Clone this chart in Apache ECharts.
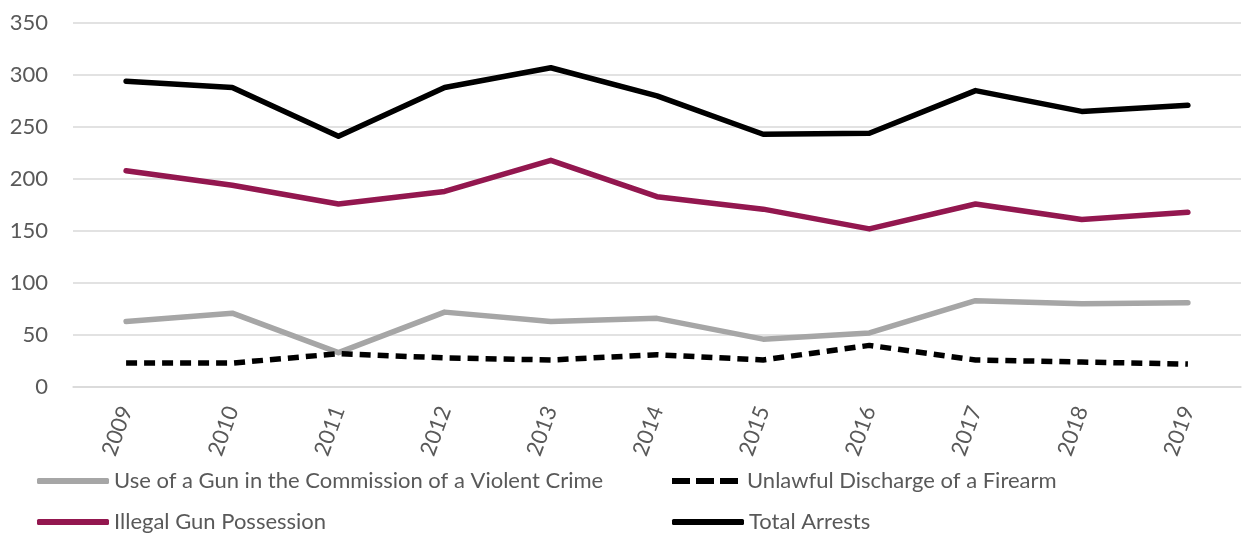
<!DOCTYPE html>
<html lang="en">
<head>
    <meta charset="UTF-8">
    <title>Gun arrests</title>
    <script src="https://cdn.jsdelivr.net/npm/echarts@6/dist/echarts.min.js"></script>
    <style>
        html, body { margin: 0; padding: 0; background: #fff; }
        #chart { width: 1243px; height: 533px; }
    </style>
</head>
<body>
<div id="chart"></div>
<script>
    /* data */
    var years = ['2009','2010','2011','2012','2013','2014','2015','2016','2017','2018','2019'];
    var useOfGun = [63, 71, 33, 72, 63, 66, 46, 52, 83, 80, 81];
    var unlawfulDischarge = [23, 23, 32, 28, 26, 31, 26, 40, 26, 24, 22];
    var illegalPossession = [208, 194, 176, 188, 218, 183, 171, 152, 176, 161, 168];
    var totalArrests = [294, 288, 241, 288, 307, 280, 243, 244, 285, 265, 271];
    var yTicks = { min: 0, max: 350, interval: 50 };

    var font = 'Lato';
    var labelColor = '#595959';
    var solidIcon = 'roundRect';
    var dashIcon = 'path://M0,0H18V6H0Z M24,0H42V6H24Z M48,0H66V6H48Z';

    function lineSeries(name, data, color, dashed) {
        return {
            name: name,
            type: 'line',
            data: data,
            symbol: 'none',
            lineStyle: {
                color: color,
                width: 5.5,
                type: dashed ? [11, 7] : 'solid',
                cap: dashed ? 'butt' : 'round',
                join: 'round'
            },
            itemStyle: { color: color }
        };
    }

    // one legend per item so the two columns line up like the original
    function legendItem(name, icon, color, left, top, width) {
        return {
            left: left,
            top: top,
            padding: 0,
            itemWidth: width,
            itemHeight: 6,
            selectedMode: false,
            itemStyle: { color: color },
            textStyle: {
                fontFamily: font,
                fontSize: 22,
                lineHeight: 24,
                color: labelColor,
                padding: [0, 0, 0, width < 70 ? 4 : 0]
            },
            data: [{ name: name, icon: icon }]
        };
    }

    var option = {
        animation: false,
        backgroundColor: '#fff',
        grid: { left: 73, right: 2, top: 23, bottom: 146 },
        legend: [
            legendItem('Use of a Gun in the Commission of a Violent Crime', solidIcon, '#a6a6a6', 37, 469, 72),
            legendItem('Unlawful Discharge of a Firearm', dashIcon, '#000000', 672, 469, 66),
            legendItem('Illegal Gun Possession', solidIcon, '#93174f', 37, 510, 72),
            legendItem('Total Arrests', solidIcon, '#000000', 672, 510, 72)
        ],
        xAxis: {
            type: 'category',
            data: years,
            boundaryGap: true,
            axisLine: { show: true, lineStyle: { color: '#d9d9d9', width: 1.5 } },
            axisTick: { show: false },
            axisLabel: {
                rotate: 70,
                margin: 20,
                fontFamily: font,
                fontSize: 22,
                color: labelColor
            }
        },
        yAxis: {
            type: 'value',
            min: yTicks.min,
            max: yTicks.max,
            interval: yTicks.interval,
            axisLine: { show: false },
            axisTick: { show: false },
            axisLabel: { margin: 25, fontFamily: font, fontSize: 22, color: labelColor },
            splitLine: { lineStyle: { color: '#d9d9d9', width: 1.5 } }
        },
        series: [
            lineSeries('Use of a Gun in the Commission of a Violent Crime', useOfGun, '#a6a6a6', false),
            lineSeries('Unlawful Discharge of a Firearm', unlawfulDischarge, '#000000', true),
            lineSeries('Illegal Gun Possession', illegalPossession, '#93174f', false),
            lineSeries('Total Arrests', totalArrests, '#000000', false)
        ]
    };

    var chart = echarts.init(document.getElementById('chart'));
    chart.setOption(option);
</script>
</body>
</html>
